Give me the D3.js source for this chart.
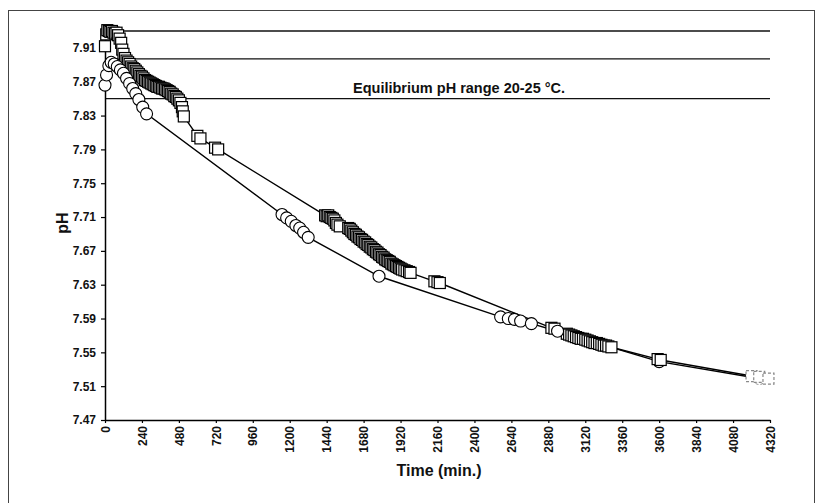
<!DOCTYPE html>
<html>
<head>
<meta charset="utf-8">
<script src="https://cdn.jsdelivr.net/npm/d3@7"></script>
<style>
  body { margin: 0; background: #fff; }
  svg { display: block; font-family: "Liberation Sans", Arial, sans-serif; }
  .tick text { font-weight: bold; fill: #111; }
</style>
</head>
<body>
<svg id="chart" width="821" height="503"></svg>
<script>
// squares series: [time (min), pH]
const squareData = [
  [0,7.912],[8,7.926],[15,7.931],[25,7.93],[35,7.929],[45,7.93],[55,7.928],[65,7.927],[75,7.928],
  [85,7.925],[95,7.921],[105,7.916],[112,7.908],[120,7.903],
  [130,7.898],[140,7.895],[150,7.893],[160,7.891],[170,7.888],[180,7.886],[190,7.885],[200,7.883],
  [210,7.881],[220,7.879],[230,7.877],[240,7.876],[250,7.874],[260,7.872],[270,7.871],[280,7.87],
  [290,7.869],[300,7.868],[310,7.867],[320,7.866],[330,7.865],[340,7.864],[350,7.864],[360,7.863],
  [370,7.862],[380,7.862],[390,7.861],[400,7.86],[410,7.859],[420,7.858],[430,7.856],[440,7.855],
  [450,7.853],[460,7.852],[470,7.85],[480,7.848],[490,7.845],[500,7.84],[505,7.835],[512,7.829],
  [600,7.806],[620,7.803],[715,7.792],[735,7.79],
  [1430,7.712],[1440,7.711],[1450,7.712],[1460,7.71],[1470,7.709],[1480,7.708],[1490,7.706],
  [1500,7.703],[1510,7.701],[1525,7.699],
  [1580,7.697],[1590,7.696],[1600,7.694],[1610,7.692],[1620,7.69],[1630,7.689],[1640,7.687],
  [1650,7.686],[1660,7.684],[1670,7.683],[1680,7.681],[1690,7.68],[1700,7.678],[1710,7.677],
  [1720,7.675],[1730,7.674],[1740,7.672],[1750,7.671],[1760,7.669],[1770,7.668],[1780,7.666],
  [1790,7.665],[1800,7.663],[1810,7.662],[1820,7.66],[1830,7.659],[1840,7.658],[1850,7.657],
  [1860,7.655],[1870,7.654],[1880,7.653],[1890,7.652],[1900,7.651],[1910,7.65],[1920,7.649],
  [1930,7.648],[1945,7.647],[1960,7.646],[1975,7.645],[1985,7.644],
  [2140,7.634],[2160,7.633],[2175,7.632],
  [2900,7.579],[2920,7.578],
  [3000,7.572],[3015,7.571],[3030,7.57],[3045,7.569],[3060,7.568],[3075,7.567],[3090,7.566],
  [3105,7.566],[3120,7.565],[3135,7.564],[3150,7.563],[3165,7.562],[3180,7.561],[3195,7.561],
  [3210,7.56],[3225,7.559],[3240,7.558],[3255,7.558],[3270,7.557],[3290,7.556],
  [3590,7.542],[3610,7.541],[4200,7.522],[4250,7.521],[4310,7.519]
];

// circles series: [time (min), pH]
const circleData = [
  [0,7.866],[10,7.878],[25,7.889],[40,7.893],[60,7.891],[80,7.888],[100,7.884],[120,7.88],
  [140,7.874],[160,7.868],[180,7.862],[200,7.856],[220,7.849],[245,7.84],[270,7.832],
  [1150,7.713],[1180,7.709],[1210,7.705],[1240,7.7],[1265,7.697],[1290,7.692],[1320,7.686],
  [1780,7.64],
  [2570,7.592],[2620,7.59],[2660,7.589],[2700,7.587],[2770,7.584],[2940,7.575],
  [3600,7.539],[4250,7.519]
];

// equilibrium pH range lines
const rangeLevels = [7.93, 7.897, 7.85];
const rangeLabel = 'Equilibrium pH range 20-25 °C.';

const xTicks = d3.range(0, 4321, 240);
const yTicks = [7.47, 7.51, 7.55, 7.59, 7.63, 7.67, 7.71, 7.75, 7.79, 7.83, 7.87, 7.91];

const svg = d3.select('#chart');
const plotLeft = 105, plotRight = 770, plotTop = 31, plotBottom = 420;

const x = d3.scaleLinear().domain([0, 4320]).range([plotLeft, plotRight]);
const y = d3.scaleLinear().domain([7.47, 7.93]).range([plotBottom, plotTop]);

// outer frame
svg.append('rect')
  .attr('x', 8.5).attr('y', 10.5).attr('width', 806).attr('height', 495)
  .attr('fill', 'none').attr('stroke', '#444').attr('stroke-width', 1);

// range lines
svg.append('g').selectAll('line').data(rangeLevels).enter().append('line')
  .attr('x1', x(0)).attr('x2', x(4320))
  .attr('y1', d => y(d)).attr('y2', d => y(d))
  .attr('stroke', '#111').attr('stroke-width', 1.3);

svg.append('text')
  .attr('x', 353).attr('y', 93)
  .attr('font-size', 14.5).attr('font-weight', 'bold').attr('fill', '#111')
  .text(rangeLabel);

// axes
const yAxis = svg.append('g').attr('transform', `translate(${plotLeft},0)`)
  .call(d3.axisLeft(y).tickValues(yTicks).tickFormat(d3.format('.2f')).tickSize(4).tickSizeOuter(0));
yAxis.selectAll('text').attr('font-size', 12).attr('dx', '-2');

const xAxis = svg.append('g').attr('transform', `translate(0,${plotBottom})`)
  .call(d3.axisBottom(x).tickValues(xTicks).tickFormat(d3.format('d')).tickSize(3).tickSizeOuter(0));
xAxis.selectAll('text')
  .attr('font-size', 12)
  .attr('text-anchor', 'end')
  .attr('transform', 'rotate(-90)')
  .attr('x', -6).attr('y', 0).attr('dy', '0.35em');
svg.selectAll('.domain').attr('stroke', '#000').attr('stroke-width', 1.5);
svg.selectAll('.tick line').attr('stroke', '#000').attr('stroke-width', 1.2);

svg.append('text')
  .attr('x', 439).attr('y', 476).attr('text-anchor', 'middle')
  .attr('font-size', 16).attr('font-weight', 'bold').attr('fill', '#111')
  .text('Time (min.)');

svg.append('text')
  .attr('transform', 'translate(68,223) rotate(-90)').attr('text-anchor', 'middle')
  .attr('font-size', 16).attr('font-weight', 'bold').attr('fill', '#111')
  .text('pH');

// series lines
const line = d3.line().x(d => x(d[0])).y(d => y(d[1]));
svg.append('path').datum(squareData).attr('d', line)
  .attr('fill', 'none').attr('stroke', '#000').attr('stroke-width', 1.4);
svg.append('path').datum(circleData).attr('d', line)
  .attr('fill', 'none').attr('stroke', '#000').attr('stroke-width', 1.4);

// markers: late circles sit under the squares, early ones on top
const faded = d => d[0] > 4000;
function drawCircles(data) {
  svg.append('g').selectAll('circle').data(data).enter().append('circle')
    .attr('cx', d => x(d[0])).attr('cy', d => y(d[1])).attr('r', 6)
    .attr('fill', '#fff')
    .attr('stroke', d => faded(d) ? '#999' : '#000')
    .attr('stroke-dasharray', d => faded(d) ? '3,2' : null)
    .attr('stroke-width', 1.1);
}
drawCircles(circleData.filter(d => d[0] > 3000));

const sq = 11;
svg.append('g').selectAll('rect').data(squareData).enter().append('rect')
  .attr('x', d => x(d[0]) - sq / 2).attr('y', d => y(d[1]) - sq / 2)
  .attr('width', sq).attr('height', sq)
  .attr('fill', '#fff')
  .attr('stroke', d => faded(d) ? '#888' : '#000')
  .attr('stroke-dasharray', d => faded(d) ? '3,2' : null)
  .attr('stroke-width', 1.2);

drawCircles(circleData.filter(d => d[0] <= 3000));
</script>
</body>
</html>
